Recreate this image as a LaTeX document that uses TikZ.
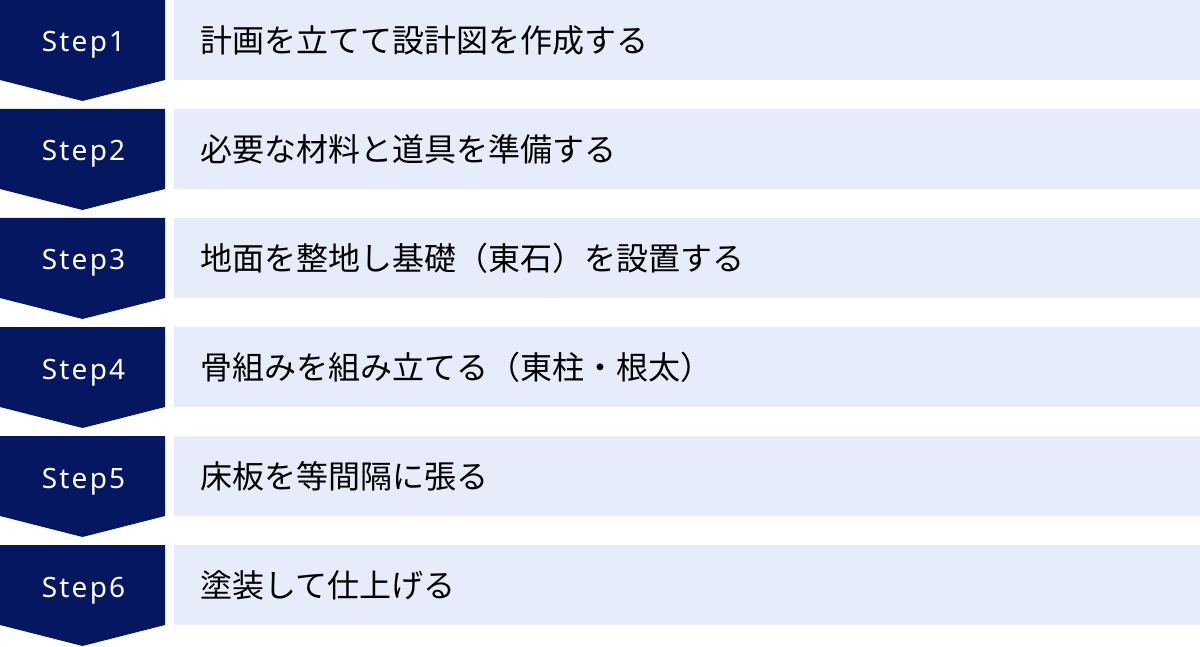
\documentclass[tikz,border=0pt]{standalone}
\usepackage{fontspec}
\setmainfont{Noto Sans}
\newfontfamily\stepfont[LetterSpace=8]{Noto Sans}
\newfontfamily\jpfont{Noto Sans CJK JP}
\definecolor{stepnavy}{HTML}{051761}
\definecolor{tasklight}{HTML}{E6ECF9}
\tikzset{
  steplabel/.style={anchor=base,text=white,inner sep=0pt,font=\stepfont\fontsize{28}{34}\selectfont},
  tasklabel/.style={anchor=west,inner sep=0pt,text=black,font=\jpfont\fontsize{32}{38}\selectfont},
}
\begin{document}
\begin{tikzpicture}[x=1pt,y=-1pt]
  \useasboundingbox (0,0) rectangle (1200,647);
  \foreach \n/\task in {1/計画を立てて設計図を作成する,
                        2/必要な材料と道具を準備する,
                        3/地面を整地し基礎（東石）を設置する,
                        4/骨組みを組み立てる（東柱・根太）,
                        5/床板を等間隔に張る,
                        6/塗装して仕上げる}{
    \pgfmathsetmacro{\rowtop}{109*(\n-1)}
    % chevron and text band
    \fill[stepnavy] (0,\rowtop) -- (165,\rowtop) -- (165,\rowtop+80)
      -- (82.5,\rowtop+101) -- (0,\rowtop+80) -- cycle;
    \fill[tasklight] (174,\rowtop) rectangle (1200,\rowtop+80);
    \node[steplabel] (step\n) at (83.5,\rowtop+52) {Step\n};
    \node[tasklabel] (task\n) at (200.5,\rowtop+40.5) {\task};
  }
\end{tikzpicture}
\end{document}
